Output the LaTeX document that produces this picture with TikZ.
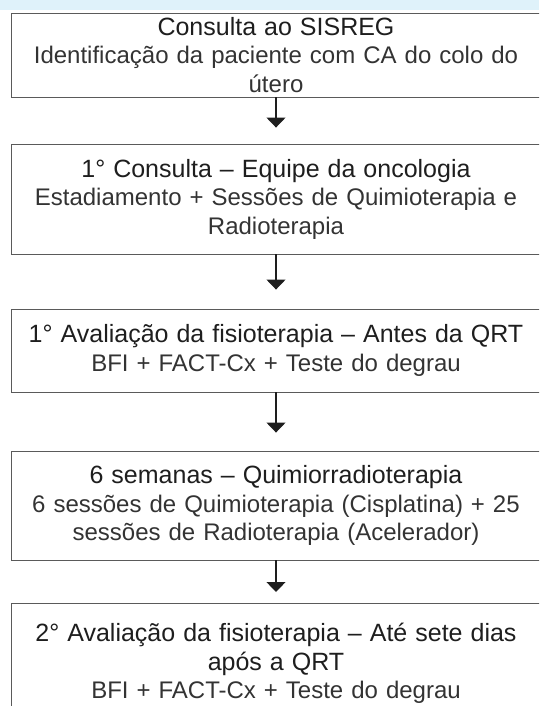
\documentclass[tikz,border=0pt]{standalone}
\usepackage{fontspec}
\setmainfont{Liberation Sans}
\usetikzlibrary{arrows.meta}

\definecolor{faixaazul}{HTML}{DFF2FA}
\definecolor{bordacinza}{HTML}{5A5A5A}
\definecolor{textoescuro}{HTML}{1E1E1E}
\definecolor{textoclaro}{HTML}{333333}

\tikzset{
  etapa/.style={draw=bordacinza, line width=0.9pt, minimum width=530pt,
    text width=522pt, align=center, inner sep=0pt, text=textoclaro,
    font=\fontsize{24}{28.5}\selectfont},
  seta/.style={-{Triangle[width=19pt,length=10pt]}, line width=1.3pt, textoescuro}
}
\newcommand{\titulo}[1]{{\fontsize{25}{28.5}\selectfont\color{textoescuro}#1}}

\begin{document}
\begin{tikzpicture}[x=1pt, y=-1pt]
\useasboundingbox (0,0) rectangle (539,706);
\clip (0,0) rectangle (539,706);
\fill[faixaazul] (0,0) rectangle (539,10);

\node[etapa, minimum height=84pt] (sisreg) at (276,55)
  {\titulo{Consulta ao SISREG}\\ Identificação da paciente com CA do colo do\\ útero};
\node[etapa, minimum height=110pt] (onco) at (276,199)
  {\titulo{1° Consulta – Equipe da oncologia}\\ Estadiamento + Sessões de Quimioterapia e\\ Radioterapia};
\node[etapa, minimum height=83pt] (aval1) at (276,350.5)
  {\titulo{1° Avaliação da fisioterapia – Antes da QRT}\\ BFI + FACT-Cx + Teste do degrau};
\node[etapa, minimum height=109pt] (qrt) at (276,505.5)
  {\titulo{6 semanas – Quimiorradioterapia}\\ 6 sessões de Quimioterapia (Cisplatina) + 25\\ sessões de Radioterapia (Acelerador)};
\node[etapa, minimum height=120pt, anchor=north] (aval2) at (276,603)
  {\titulo{2° Avaliação da fisioterapia – Até sete dias}\\ \titulo{após a QRT}\\ BFI + FACT-Cx + Teste do degrau};

\draw[seta, shorten >=16pt] (sisreg) -- (onco);
\draw[seta, shorten >=19pt] (onco) -- (aval1);
\draw[seta, shorten >=18pt] (aval1) -- (qrt);
\draw[seta, shorten >=11pt] (qrt) -- (aval2);
\end{tikzpicture}
\end{document}
